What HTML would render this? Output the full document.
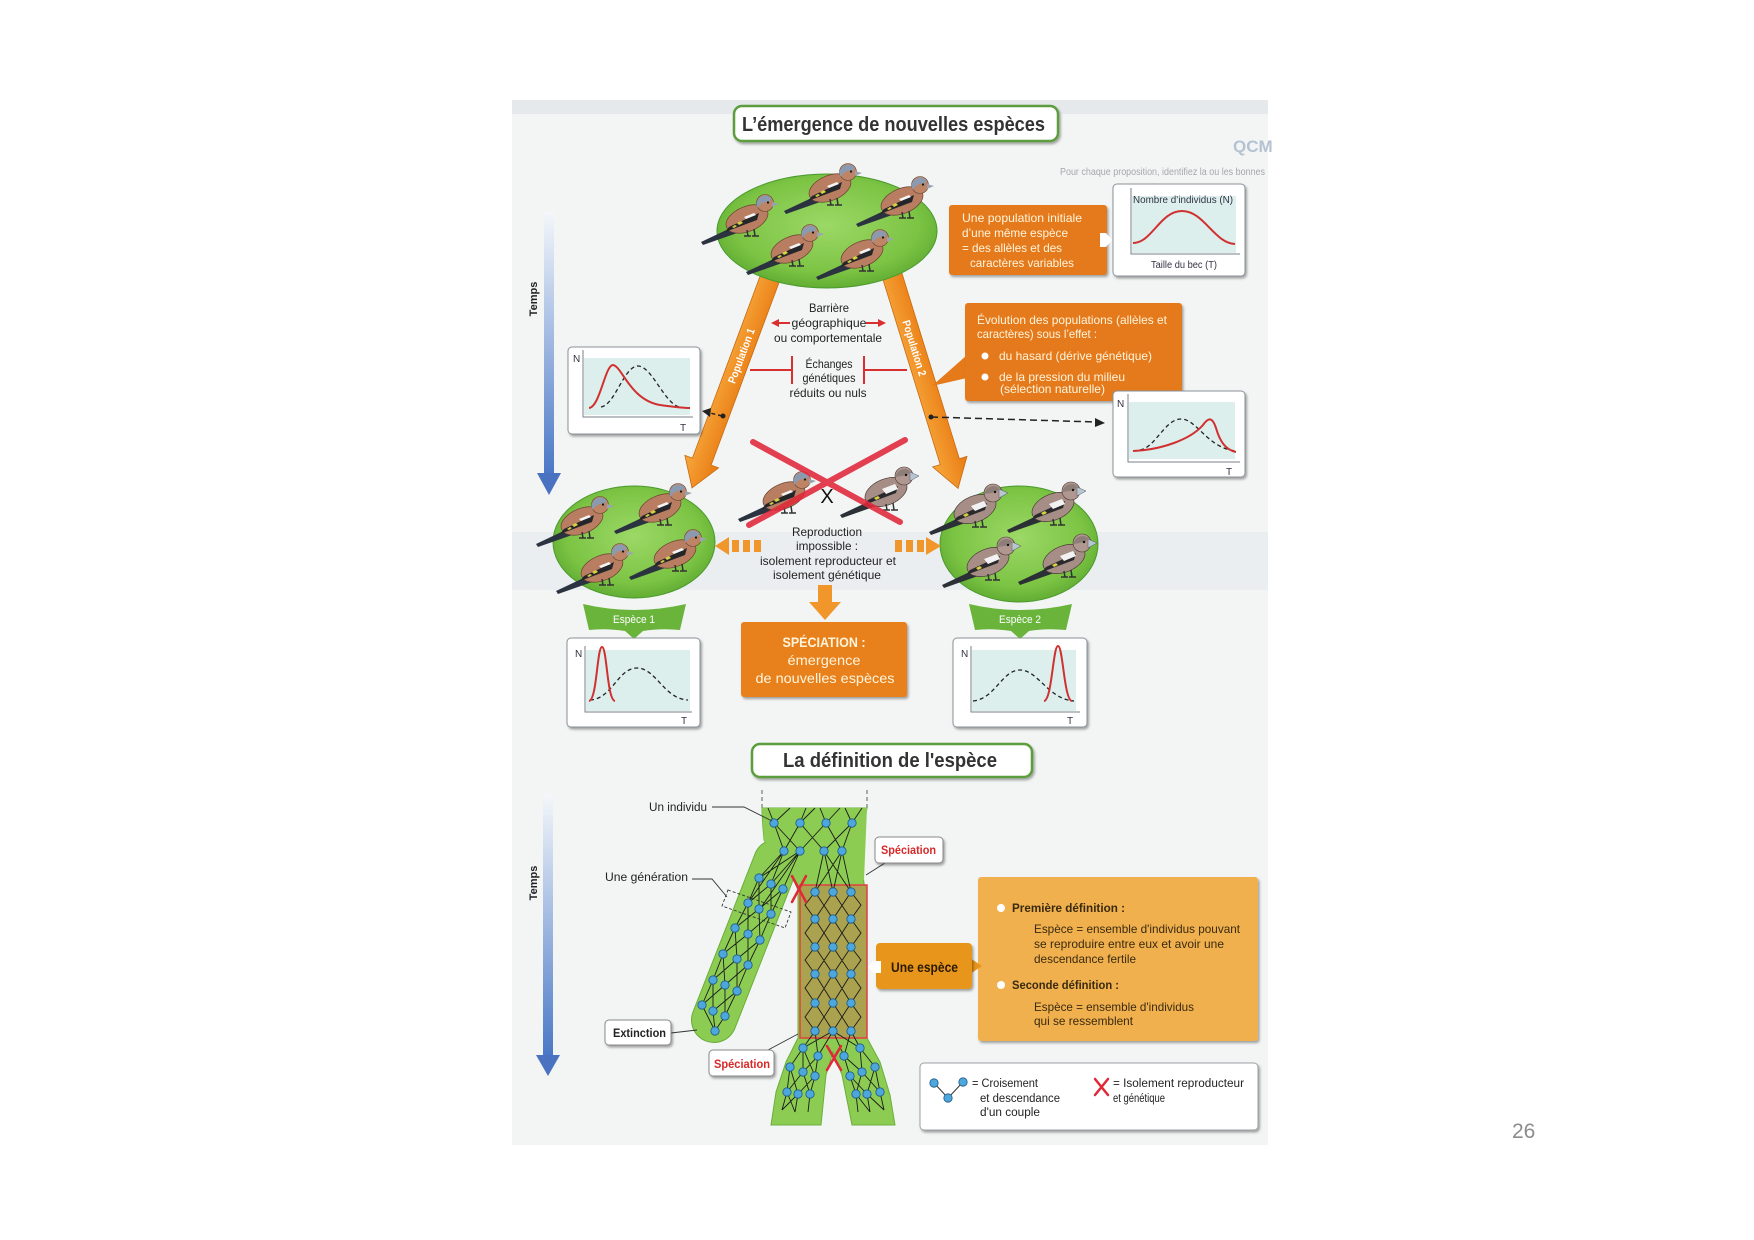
<!DOCTYPE html>
<html><head><meta charset="utf-8">
<style>
html,body{margin:0;padding:0;background:#fff;}
svg{display:block;}
text{font-family:"Liberation Sans",sans-serif;}
</style></head><body>
<svg width="1754" height="1240" viewBox="0 0 1754 1240" xmlns="http://www.w3.org/2000/svg">
<defs>
 <radialGradient id="gEll" cx="50%" cy="45%" r="55%">
   <stop offset="0" stop-color="#9cd866"/>
   <stop offset="0.75" stop-color="#7cc444"/>
   <stop offset="1" stop-color="#62ae34"/>
 </radialGradient>
 <linearGradient id="gTemps" x1="0" y1="0" x2="0" y2="1">
   <stop offset="0" stop-color="#f4f7fb"/>
   <stop offset="1" stop-color="#4a78c6"/>
 </linearGradient>
 <linearGradient id="gBand" x1="0" y1="0" x2="1" y2="0">
   <stop offset="0" stop-color="#f7a83c"/>
   <stop offset="1" stop-color="#e87a12"/>
 </linearGradient>
 <filter id="sh" x="-10%" y="-10%" width="125%" height="135%">
   <feDropShadow dx="1.5" dy="2" stdDeviation="1.2" flood-color="#000" flood-opacity="0.35"/>
 </filter>
 <g id="bird1">
  <path d="M-28,22 L-64,39 L-62,42 L-25,29 Z" fill="#2b3340"/>
  <ellipse cx="-18" cy="16" rx="22" ry="12.5" transform="rotate(-22 -18 16)" fill="#b97e62" stroke="#6a4230" stroke-width="0.7"/>
  <path d="M-6,10 L-36,24 L-40,29 L-8,17 Z" fill="#24262a"/>
  <path d="M-11,10 L-21,14 L-19,16 L-9,12 Z" fill="#f4f4f4"/>
  <path d="M-24,18 l-4,2 l2,2 l4,-2z M-30,22 l-3,2 l2,1 l3,-2z" fill="#d8d040"/>
  <circle cx="0" cy="0" r="8.5" fill="#bd8466" stroke="#6a4230" stroke-width="0.6"/>
  <path d="M-8.3,2 A8.5,8.5 0 0 1 7,-4 L4,-1 C0,-2 -4,0 -8,5 Z" fill="#8c9ab0"/>
  <path d="M7,-1 L14,1 L7,4 Z" fill="#9aa4b0"/>
  <circle cx="3" cy="-0.5" r="1.1" fill="#111"/>
  <path d="M-18,27 L-17,33 M-11,26 L-10,33 M-21,33 L-14,33 M-13,33 L-6,33" stroke="#333" stroke-width="1.5" fill="none"/>
 </g>
 <g id="bird2">
  <path d="M-28,22 L-64,39 L-62,42 L-25,29 Z" fill="#2b3036"/>
  <ellipse cx="-18" cy="16" rx="22" ry="13" transform="rotate(-22 -18 16)" fill="#a68e86" stroke="#4a3a34" stroke-width="0.7"/>
  <path d="M-6,10 L-36,24 L-40,29 L-8,17 Z" fill="#2a2a2c"/>
  <path d="M-9,8 L-22,13 L-18,18 L-6,13 Z" fill="#f2f2f2"/>
  <path d="M-26,20 l-4,2 l2,2 l4,-2z" fill="#d8d040"/>
  <circle cx="0" cy="0" r="9" fill="#b09890" stroke="#4a3a34" stroke-width="0.6"/>
  <path d="M-8.5,1 A9,9 0 0 1 6,-5 L4,-1 Z" fill="#8e7e78"/>
  <path d="M6,-4 L15,0 L6,5 Z" fill="#b8c6d0" stroke="#556" stroke-width="0.5"/>
  <circle cx="2" cy="-1" r="1.2" fill="#111"/>
  <path d="M-18,28 L-17,34 M-11,27 L-10,34 M-21,34 L-14,34 M-13,34 L-6,34" stroke="#333" stroke-width="1.5" fill="none"/>
 </g>
</defs>

<!-- scanned page background -->
<rect x="512" y="100" width="756" height="1045" fill="#f3f5f5"/>
<rect x="512" y="100" width="756" height="14" fill="#e6e9eb"/>
<rect x="512" y="532" width="756" height="58" fill="#ebeef1"/>
<text x="1233" y="152" font-size="17" font-weight="bold" fill="#b4c2d2">QCM</text>
<text x="1060" y="175" font-size="10" fill="#a4a8ac" textLength="205" lengthAdjust="spacingAndGlyphs">Pour chaque proposition, identifiez la ou les bonnes</text>

<!-- Title 1 -->
<rect x="734" y="106" width="324" height="35" rx="8" fill="#fff" stroke="#5b9e3c" stroke-width="2.5" filter="url(#sh)"/>
<text x="742" y="131" font-size="20" font-weight="bold" fill="#333" textLength="303" lengthAdjust="spacingAndGlyphs">L’émergence de nouvelles espèces</text>

<!-- Temps upper -->
<rect x="544" y="212" width="10" height="262" fill="url(#gTemps)"/>
<polygon points="537,473 561,473 549,495" fill="#4a72c0"/>
<text transform="translate(537,299) rotate(-90)" text-anchor="middle" font-size="11" font-weight="bold" fill="#222">Temps</text>

<!-- Population bands -->
<g transform="translate(776,262) rotate(20.4)">
  <polygon points="-10,0 10,0 10,213 18,213 0,241 -18,213 -10,213" fill="url(#gBand)" stroke="#c86a10" stroke-width="0.8"/>
  <text transform="translate(4,100) rotate(-90)" text-anchor="middle" font-size="11" font-weight="bold" fill="#fff" textLength="58" lengthAdjust="spacingAndGlyphs">Population 1</text>
</g>
<g transform="translate(888,262) rotate(-17.2)">
  <polygon points="-10,0 10,0 10,209 18,209 0,237 -18,209 -10,209" fill="url(#gBand)" stroke="#c86a10" stroke-width="0.8"/>
  <text transform="translate(-4,90) rotate(90)" text-anchor="middle" font-size="11" font-weight="bold" fill="#fff" textLength="58" lengthAdjust="spacingAndGlyphs">Population 2</text>
</g>

<!-- Top ellipse -->
<ellipse cx="827" cy="231" rx="110" ry="57" fill="url(#gEll)" stroke="#4a9a2c" stroke-width="1"/>
<use href="#bird1" transform="translate(765,203)"/>
<use href="#bird1" transform="translate(848,172)"/>
<use href="#bird1" transform="translate(920,185)"/>
<use href="#bird1" transform="translate(810,233)"/>
<use href="#bird1" transform="translate(880,238)"/>

<!-- Orange box 1 -->
<rect x="949" y="205" width="158" height="70" rx="3" fill="#e57a1a" filter="url(#sh)"/>
<polygon points="1100,233 1106,233 1112,240 1106,247 1100,247" fill="#fff"/>
<g font-size="12" fill="#fff5dc">
<text x="962" y="222" textLength="120" lengthAdjust="spacingAndGlyphs">Une population initiale</text>
<text x="962" y="237" textLength="106" lengthAdjust="spacingAndGlyphs">d’une même espèce</text>
<text x="962" y="252" textLength="100" lengthAdjust="spacingAndGlyphs">= des allèles et des</text>
<text x="970" y="267" textLength="104" lengthAdjust="spacingAndGlyphs">caractères variables</text>
</g>

<!-- Graph 1 -->
<rect x="1113" y="184" width="132" height="92" rx="4" fill="#fff" stroke="#8a9298" filter="url(#sh)"/>
<rect x="1132" y="196" width="104" height="57" fill="#dcefed"/>
<path d="M1131,188 L1131,254 L1240,254" stroke="#7a8288" fill="none"/>
<path d="M1133,243 C1152,243 1160,211 1182,211 C1204,211 1214,243 1235,244" stroke="#d03030" stroke-width="2" fill="none"/>
<text x="1133" y="203" font-size="10" fill="#334" textLength="100" lengthAdjust="spacingAndGlyphs">Nombre d’individus (N)</text>
<text x="1151" y="268" font-size="10" fill="#334" textLength="66" lengthAdjust="spacingAndGlyphs">Taille du bec (T)</text>

<!-- Barrière -->
<g font-size="12" fill="#222" text-anchor="middle">
<text x="829" y="312" textLength="40" lengthAdjust="spacingAndGlyphs">Barrière</text>
<text x="829" y="327" textLength="75" lengthAdjust="spacingAndGlyphs">géographique</text>
<text x="828" y="342" textLength="108" lengthAdjust="spacingAndGlyphs">ou comportementale</text>
<text x="829" y="368" textLength="47" lengthAdjust="spacingAndGlyphs">Échanges</text>
<text x="829" y="382" textLength="53" lengthAdjust="spacingAndGlyphs">génétiques</text>
<text x="828" y="397" textLength="77" lengthAdjust="spacingAndGlyphs">réduits ou nuls</text>
</g>
<g stroke="#d83030" stroke-width="2" fill="none">
<path d="M790,323 L777,323"/><path d="M866,323 L880,323"/>
<path d="M750,370 L792,370 M792,356 L792,384 M864,356 L864,384 M864,370 L907,370"/>
</g>
<polygon points="771,323 779,319 779,327" fill="#d83030"/>
<polygon points="886,323 878,319 878,327" fill="#d83030"/>

<!-- Orange box 2 -->
<polygon points="967,355 967,378 932,386" fill="#e57a1a"/>
<rect x="965" y="303" width="217" height="98" rx="3" fill="#e57a1a" filter="url(#sh)"/>
<g font-size="12" fill="#fff5dc">
<text x="977" y="324" textLength="190" lengthAdjust="spacingAndGlyphs">Évolution des populations (allèles et</text>
<text x="977" y="338" textLength="120" lengthAdjust="spacingAndGlyphs">caractères) sous l’effet :</text>
<text x="999" y="360" textLength="153" lengthAdjust="spacingAndGlyphs">du hasard (dérive génétique)</text>
<text x="999" y="381" textLength="126" lengthAdjust="spacingAndGlyphs">de la pression du milieu</text>
<text x="1000" y="393" textLength="105" lengthAdjust="spacingAndGlyphs">(sélection naturelle)</text>
</g>
<circle cx="985" cy="356" r="3.5" fill="#fff"/>
<circle cx="985" cy="377" r="3.5" fill="#fff"/>

<!-- Graph left mid -->
<rect x="568" y="347" width="132" height="87" rx="4" fill="#fff" stroke="#8a9298" filter="url(#sh)"/>
<rect x="584" y="358" width="106" height="57" fill="#dcefed"/>
<path d="M583,350 L583,417 L693,417" stroke="#7a8288" fill="none"/>
<text x="573" y="362" font-size="10" fill="#334">N</text>
<text x="680" y="431" font-size="10" fill="#334">T</text>
<path d="M601,407 C615,405 624,366 638,366 C652,366 665,405 680,407" stroke="#222" stroke-width="1.3" stroke-dasharray="4,3" fill="none"/>
<path d="M589,408 C600,407 605,365 613,365 C622,366 630,400 660,405 C675,407 682,408 690,408" stroke="#d03030" stroke-width="2" fill="none"/>
<path d="M722,416 L710,413" stroke="#222" stroke-width="1.5" stroke-dasharray="4,3"/>
<polygon points="702,411 711,408 710,417" fill="#222"/>
<circle cx="723" cy="416" r="2.5" fill="#222"/>

<!-- Graph right mid -->
<rect x="1113" y="391" width="132" height="86" rx="4" fill="#fff" stroke="#8a9298" filter="url(#sh)"/>
<rect x="1129" y="402" width="106" height="57" fill="#dcefed"/>
<path d="M1128,394 L1128,462 L1240,462" stroke="#7a8288" fill="none"/>
<text x="1117" y="407" font-size="10" fill="#334">N</text>
<text x="1226" y="475" font-size="10" fill="#334">T</text>
<path d="M1140,450 C1155,448 1165,419 1181,419 C1197,419 1207,448 1236,451" stroke="#222" stroke-width="1.3" stroke-dasharray="4,3" fill="none"/>
<path d="M1133,451 C1160,450 1190,440 1203,425 C1208,418 1212,416 1216,428 C1220,442 1226,450 1236,452" stroke="#d03030" stroke-width="2" fill="none"/>
<path d="M931,417 L1096,422" stroke="#222" stroke-width="1.5" stroke-dasharray="7,4"/>
<polygon points="1105,423 1095,418 1095,427" fill="#222"/>
<circle cx="931" cy="417" r="2.5" fill="#222"/>

<!-- lower ellipses -->
<ellipse cx="634" cy="542" rx="81" ry="56" fill="url(#gEll)" stroke="#4a9a2c"/>
<use href="#bird1" transform="translate(600,505)"/>
<use href="#bird1" transform="translate(678,492)"/>
<use href="#bird1" transform="translate(620,552)"/>
<use href="#bird1" transform="translate(693,538)"/>
<ellipse cx="1019" cy="544" rx="79" ry="58" fill="url(#gEll)" stroke="#4a9a2c"/>
<use href="#bird2" transform="translate(993,493)"/>
<use href="#bird2" transform="translate(1071,491)"/>
<use href="#bird2" transform="translate(1006,546)"/>
<use href="#bird2" transform="translate(1082,543)"/>

<!-- cross birds -->
<use href="#bird1" transform="translate(802,480)"/>
<use href="#bird2" transform="translate(904,476)"/>
<g stroke="#e0283a" stroke-width="6" stroke-linecap="round" opacity="0.88">
<path d="M753,442 L900,522"/><path d="M905,440 L749,525"/>
</g>
<text x="827" y="503" font-size="20" text-anchor="middle" fill="#111">X</text>

<g font-size="12" fill="#222" text-anchor="middle">
<text x="827" y="536" textLength="70" lengthAdjust="spacingAndGlyphs">Reproduction</text>
<text x="827" y="550" textLength="62" lengthAdjust="spacingAndGlyphs">impossible :</text>
<text x="828" y="565" textLength="136" lengthAdjust="spacingAndGlyphs">isolement reproducteur et</text>
<text x="827" y="579" textLength="108" lengthAdjust="spacingAndGlyphs">isolement génétique</text>
</g>
<g fill="#f0962a">
<polygon points="715,546 729,537 729,555"/>
<rect x="732" y="540" width="7" height="12"/><rect x="743" y="540" width="7" height="12"/><rect x="754" y="540" width="7" height="12"/>
<rect x="895" y="540" width="7" height="12"/><rect x="906" y="540" width="7" height="12"/><rect x="917" y="540" width="7" height="12"/>
<polygon points="926,537 926,555 941,546"/>
<polygon points="818,585 832,585 832,602 841,602 825,620 809,602 818,602"/>
</g>

<!-- Espèce banners -->
<path d="M583,604 Q634,616 686,604 L680,630 Q660,628 643,631 L634,639 L625,631 Q606,628 589,630 Z" fill="#6ab43c"/>
<text x="634" y="623" font-size="11" fill="#fff" text-anchor="middle" textLength="42" lengthAdjust="spacingAndGlyphs">Espèce 1</text>
<path d="M969,604 Q1020,616 1072,604 L1066,630 Q1046,628 1029,631 L1020,639 L1011,631 Q992,628 975,630 Z" fill="#6ab43c"/>
<text x="1020" y="623" font-size="11" fill="#fff" text-anchor="middle" textLength="42" lengthAdjust="spacingAndGlyphs">Espèce 2</text>

<!-- Speciation box -->
<rect x="741" y="622" width="166" height="75" rx="3" fill="#e8801c" filter="url(#sh)"/>
<g font-size="14" fill="#fff5dc" text-anchor="middle">
<text x="824" y="647" font-weight="bold" textLength="83" lengthAdjust="spacingAndGlyphs">SPÉCIATION :</text>
<text x="824" y="665" textLength="73" lengthAdjust="spacingAndGlyphs">émergence</text>
<text x="825" y="683" textLength="139" lengthAdjust="spacingAndGlyphs">de nouvelles espèces</text>
</g>

<!-- Bottom graphs -->
<rect x="567" y="638" width="133" height="89" rx="4" fill="#fff" stroke="#8a9298" filter="url(#sh)"/>
<rect x="586" y="650" width="104" height="61" fill="#dcefed"/>
<path d="M585,646 L585,712 L692,712" stroke="#7a8288" fill="none"/>
<text x="575" y="657" font-size="10" fill="#334">N</text>
<text x="681" y="724" font-size="10" fill="#334">T</text>
<path d="M590,700 C612,699 618,668 637,668 C656,668 664,699 688,700" stroke="#222" stroke-width="1.3" stroke-dasharray="4,3" fill="none"/>
<path d="M589,701 C597,700 597,647 602,647 C607,647 607,700 615,701" stroke="#d03030" stroke-width="2" fill="none"/>

<rect x="953" y="638" width="134" height="89" rx="4" fill="#fff" stroke="#8a9298" filter="url(#sh)"/>
<rect x="972" y="650" width="104" height="61" fill="#dcefed"/>
<path d="M971,646 L971,712 L1080,712" stroke="#7a8288" fill="none"/>
<text x="961" y="657" font-size="10" fill="#334">N</text>
<text x="1067" y="724" font-size="10" fill="#334">T</text>
<path d="M973,701 C995,699 1002,670 1020,670 C1038,670 1048,699 1074,701" stroke="#222" stroke-width="1.3" stroke-dasharray="4,3" fill="none"/>
<path d="M1044,701 C1052,700 1053,646 1058,646 C1063,646 1064,700 1072,701" stroke="#d03030" stroke-width="2" fill="none"/>

<!-- Title 2 -->
<rect x="752" y="744" width="280" height="33" rx="8" fill="#fff" stroke="#5b9e3c" stroke-width="2.5" filter="url(#sh)"/>
<text x="783" y="767" font-size="20" font-weight="bold" fill="#333" textLength="214" lengthAdjust="spacingAndGlyphs">La définition de l'espèce</text>

<!-- Temps lower -->
<rect x="543" y="794" width="10" height="262" fill="url(#gTemps)"/>
<polygon points="536,1055 560,1055 548,1076" fill="#4a72c0"/>
<text transform="translate(537,883) rotate(-90)" text-anchor="middle" font-size="11" font-weight="bold" fill="#222">Temps</text>

<!-- Tree -->
<path d="M762,790 L762,808 M867,790 L867,808" stroke="#777" stroke-width="1.2" stroke-dasharray="4,3"/>
<path d="M776,862 L714,1020" stroke="#6aae3a" stroke-width="46" stroke-linecap="round"/>
<g fill="#8ccc52" stroke="#6aae3a" stroke-width="1">
<path d="M762,808 L867,808 C862,830 860,860 865,890 L867,1038 L880,1062 L890,1095 L895,1125 L852,1125 L842,1075 L833,1052 L826,1075 L821,1125 L771,1125 L776,1092 L786,1062 L798,1038 L798,890 L790,872 C780,860 770,850 764,840 C763,828 762,818 762,808 Z"/>
</g>
<path d="M776,862 L714,1020" stroke="#8ccc52" stroke-width="44" stroke-linecap="round"/>
<path d="M762,808 L867,808 L864,880 L790,872 C780,860 770,850 764,840 Z" fill="#8ccc52"/>
<rect x="800" y="885" width="67" height="153" fill="#aaa24e" stroke="#e04040" stroke-width="1.5"/>

<path stroke="#1a1a1a" stroke-width="0.9" fill="none" d="
M768,808 L774,823 M790,808 L774,823 M806,808 L800,823 M815,808 L800,823 M820,808 L826,823 M840,808 L826,823 M845,808 L852,823 M862,808 L852,823
M774,823 L784,851 M774,823 L800,851 M800,823 L784,851 M800,823 L824,851 M826,823 L800,851 M826,823 L842,851 M852,823 L824,851 M852,823 L842,851
M784,851 L759,878 M784,851 L771,884 M800,851 L771,884 M800,851 L783,889 M800,851 L759,878 M784,851 L748,903 M800,851 L760,909
M824,851 L815,892 M824,851 L833,892 M842,851 L833,892 M842,851 L851,892 M824,851 L851,892 M842,851 L815,892
M759,878 L748,903 M759,878 L759,909 M771,884 L748,903 M771,884 L771,914 M783,889 L759,909 M783,889 L771,914
M748,903 L735,928 M748,903 L748,934 M759,909 L735,928 M759,909 L760,940 M771,914 L748,934 M771,914 L760,940
M735,928 L723,954 M735,928 L737,959 M748,934 L723,954 M748,934 L748,965 M760,940 L737,959 M760,940 L748,965
M723,954 L713,980 M723,954 L725,985 M737,959 L713,980 M737,959 L737,991 M748,965 L725,985 M748,965 L737,991
M713,980 L702,1005 M713,980 L713,1011 M725,985 L702,1005 M725,985 L725,1016 M737,991 L713,1011 M737,991 L725,1016
M702,1005 L715,1031 M713,1011 L715,1031 M725,1016 L715,1031
M815,892 L833,919 M833,892 L815,919 M833,892 L851,919 M851,892 L833,919 M815,892 L805,905 L815,919 M851,892 L861,905 L851,919
M815,919 L833,947 M833,919 L815,947 M833,919 L851,947 M851,919 L833,947 M815,919 L805,933 L815,947 M851,919 L861,933 L851,947
M815,947 L833,974 M833,947 L815,974 M833,947 L851,974 M851,947 L833,974 M815,947 L805,960 L815,974 M851,947 L861,960 L851,974
M815,974 L833,1003 M833,974 L815,1003 M833,974 L851,1003 M851,974 L833,1003 M815,974 L805,988 L815,1003 M851,974 L861,988 L851,1003
M815,1003 L833,1031 M833,1003 L815,1031 M833,1003 L851,1031 M851,1003 L833,1031 M815,1003 L805,1017 L815,1031 M851,1003 L861,1017 L851,1031
M815,1031 L803,1048 M815,1031 L818,1056 M833,1031 L818,1056 M833,1031 L803,1048 M833,1031 L844,1056 M833,1031 L860,1048 M851,1031 L844,1056 M851,1031 L860,1048
M803,1048 L790,1067 M803,1048 L803,1072 M818,1056 L803,1072 M818,1056 L815,1076 M803,1048 L815,1076 M790,1067 L787,1092 M790,1067 L798,1094 M803,1072 L787,1092 M803,1072 L810,1094 M815,1076 L798,1094 M815,1076 L810,1094 M787,1092 L782,1110 M798,1094 L795,1112 M810,1094 L808,1112 M787,1092 L795,1112 M798,1094 L782,1110
M844,1056 L850,1076 M844,1056 L862,1072 M860,1048 L862,1072 M860,1048 L875,1067 M850,1076 L856,1094 M850,1076 L867,1094 M862,1072 L856,1094 M862,1072 L880,1092 M875,1067 L867,1094 M875,1067 L880,1092 M856,1094 L858,1112 M867,1094 L870,1112 M880,1092 L884,1110 M856,1094 L870,1112 M867,1094 L884,1110"/>

<g fill="#4da6dc" stroke="#1d5a8a" stroke-width="0.8">
<circle cx="774" cy="823" r="4.2"/><circle cx="800" cy="823" r="4.2"/><circle cx="826" cy="823" r="4.2"/><circle cx="852" cy="823" r="4.2"/>
<circle cx="784" cy="851" r="4.2"/><circle cx="800" cy="851" r="4.2"/><circle cx="824" cy="851" r="4.2"/><circle cx="842" cy="851" r="4.2"/>
<circle cx="759" cy="878" r="4.2"/><circle cx="771" cy="884" r="4.2"/><circle cx="783" cy="889" r="4.2"/>
<circle cx="748" cy="903" r="4.2"/><circle cx="759" cy="909" r="4.2"/><circle cx="771" cy="914" r="4.2"/>
<circle cx="735" cy="928" r="4.2"/><circle cx="748" cy="934" r="4.2"/><circle cx="760" cy="940" r="4.2"/>
<circle cx="723" cy="954" r="4.2"/><circle cx="737" cy="959" r="4.2"/><circle cx="748" cy="965" r="4.2"/>
<circle cx="713" cy="980" r="4.2"/><circle cx="725" cy="985" r="4.2"/><circle cx="737" cy="991" r="4.2"/>
<circle cx="702" cy="1005" r="4.2"/><circle cx="713" cy="1011" r="4.2"/><circle cx="725" cy="1016" r="4.2"/>
<circle cx="715" cy="1031" r="4.2"/>
<circle cx="815" cy="892" r="4.2"/><circle cx="833" cy="892" r="4.2"/><circle cx="851" cy="892" r="4.2"/>
<circle cx="815" cy="919" r="4.2"/><circle cx="833" cy="919" r="4.2"/><circle cx="851" cy="919" r="4.2"/>
<circle cx="815" cy="947" r="4.2"/><circle cx="833" cy="947" r="4.2"/><circle cx="851" cy="947" r="4.2"/>
<circle cx="815" cy="974" r="4.2"/><circle cx="833" cy="974" r="4.2"/><circle cx="851" cy="974" r="4.2"/>
<circle cx="815" cy="1003" r="4.2"/><circle cx="833" cy="1003" r="4.2"/><circle cx="851" cy="1003" r="4.2"/>
<circle cx="815" cy="1031" r="4.2"/><circle cx="833" cy="1031" r="4.2"/><circle cx="851" cy="1031" r="4.2"/>
<circle cx="803" cy="1048" r="4.2"/><circle cx="818" cy="1056" r="4.2"/><circle cx="790" cy="1067" r="4.2"/><circle cx="803" cy="1072" r="4.2"/><circle cx="815" cy="1076" r="4.2"/><circle cx="787" cy="1092" r="4.2"/><circle cx="798" cy="1094" r="4.2"/><circle cx="810" cy="1094" r="4.2"/>
<circle cx="844" cy="1056" r="4.2"/><circle cx="860" cy="1048" r="4.2"/><circle cx="850" cy="1076" r="4.2"/><circle cx="862" cy="1072" r="4.2"/><circle cx="875" cy="1067" r="4.2"/><circle cx="856" cy="1094" r="4.2"/><circle cx="867" cy="1094" r="4.2"/><circle cx="880" cy="1092" r="4.2"/>
</g>

<g stroke="#e02838" stroke-width="2.5" stroke-linecap="round">
<path d="M792,876 L806,902 M806,876 L792,902"/>
<path d="M827,1046 L841,1070 M841,1046 L827,1070"/>
</g>

<polygon points="728,890 791,912 785,928 722,906" fill="none" stroke="#333" stroke-width="0.9" stroke-dasharray="3,2"/>

<!-- labels & leaders -->
<g stroke="#333" stroke-width="0.9" fill="none">
<path d="M712,807 L744,807 L772,821"/>
<path d="M692,879 L712,879 L727,897"/>
<path d="M671,1033 L697,1030"/>
<path d="M768,1050 L798,1034"/>
<path d="M885,863 L866,875"/>
</g>
<g font-size="11.5" fill="#222">
<text x="649" y="811" textLength="58" lengthAdjust="spacingAndGlyphs">Un individu</text>
<text x="605" y="881" textLength="83" lengthAdjust="spacingAndGlyphs">Une génération</text>
</g>
<rect x="605" y="1020" width="66" height="25" rx="4" fill="#fff" stroke="#8a8a8a" filter="url(#sh)"/>
<text x="613" y="1037" font-size="11.5" font-weight="bold" fill="#222" textLength="53" lengthAdjust="spacingAndGlyphs">Extinction</text>
<rect x="875" y="837" width="68" height="26" rx="4" fill="#fff" stroke="#8a8a8a" filter="url(#sh)"/>
<text x="881" y="854" font-size="11.5" font-weight="bold" fill="#d82828" textLength="55" lengthAdjust="spacingAndGlyphs">Spéciation</text>
<rect x="709" y="1050" width="65" height="26" rx="4" fill="#fff" stroke="#8a8a8a" filter="url(#sh)"/>
<text x="714" y="1068" font-size="11.5" font-weight="bold" fill="#d82828" textLength="56" lengthAdjust="spacingAndGlyphs">Spéciation</text>

<!-- definition box -->
<rect x="978" y="877" width="280" height="164" rx="3" fill="#f0b04e" filter="url(#sh)"/>
<polygon points="970,958 982,966 970,974" fill="#e8951a"/>
<rect x="876" y="943" width="96" height="46" rx="4" fill="#e8951a" filter="url(#sh)"/>
<polygon points="868,967 874,961 881,961 881,973 874,973" fill="#fff"/>
<text x="891" y="972" font-size="14" font-weight="bold" fill="#2a1a00" textLength="67" lengthAdjust="spacingAndGlyphs">Une espèce</text>
<circle cx="1001" cy="908" r="4" fill="#fff"/>
<circle cx="1001" cy="985" r="4" fill="#fff"/>
<g font-size="12" fill="#3a2a10">
<text x="1012" y="912" font-weight="bold" textLength="113" lengthAdjust="spacingAndGlyphs">Première définition :</text>
<text x="1034" y="933" textLength="206" lengthAdjust="spacingAndGlyphs">Espèce = ensemble d'individus pouvant</text>
<text x="1034" y="948" textLength="190" lengthAdjust="spacingAndGlyphs">se reproduire entre eux et avoir une</text>
<text x="1034" y="963" textLength="102" lengthAdjust="spacingAndGlyphs">descendance fertile</text>
<text x="1012" y="989" font-weight="bold" textLength="107" lengthAdjust="spacingAndGlyphs">Seconde définition :</text>
<text x="1034" y="1011" textLength="160" lengthAdjust="spacingAndGlyphs">Espèce = ensemble d'individus</text>
<text x="1034" y="1025" textLength="99" lengthAdjust="spacingAndGlyphs">qui se ressemblent</text>
</g>

<!-- legend -->
<rect x="920" y="1063" width="338" height="67" rx="4" fill="#fff" stroke="#9aa0a4" filter="url(#sh)"/>
<path d="M934,1083 L948,1098 L963,1082" stroke="#333" stroke-width="1" fill="none"/>
<g fill="#4da6dc" stroke="#1d5a8a" stroke-width="0.8">
<circle cx="934" cy="1083" r="4.2"/><circle cx="963" cy="1082" r="4.2"/><circle cx="948" cy="1098" r="4.2"/>
</g>
<path d="M1095,1079 L1108,1095 M1108,1079 L1095,1095" stroke="#e02838" stroke-width="2.5" stroke-linecap="round"/>
<g font-size="11.5" fill="#222">
<text x="972" y="1087" textLength="66" lengthAdjust="spacingAndGlyphs">= Croisement</text>
<text x="980" y="1102" textLength="80" lengthAdjust="spacingAndGlyphs">et descendance</text>
<text x="980" y="1116" textLength="60" lengthAdjust="spacingAndGlyphs">d'un couple</text>
<text x="1113" y="1087" textLength="131" lengthAdjust="spacingAndGlyphs">= Isolement reproducteur</text>
<text x="1113" y="1102" textLength="52" lengthAdjust="spacingAndGlyphs">et génétique</text>
</g>

<!-- page number -->
<text x="1512" y="1138" font-size="21" fill="#8c8c8c">26</text>
</svg>
</body></html>
